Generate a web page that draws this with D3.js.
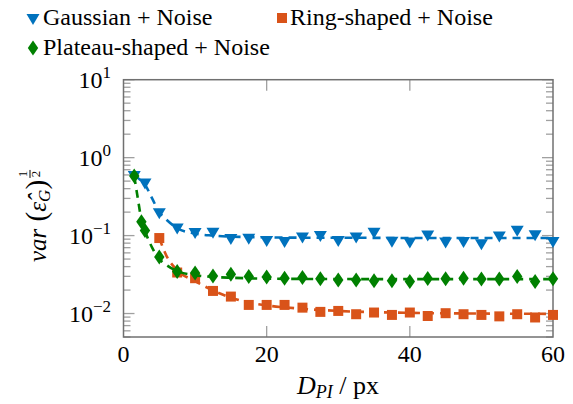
<!DOCTYPE html>
<html><head><meta charset="utf-8">
<script src="https://cdn.jsdelivr.net/npm/d3@7"></script>
<style>
body{margin:0;background:#fff}
svg{display:block}
</style>
</head><body>
<svg id="chart" width="573" height="404" font-family="'Liberation Serif', 'DejaVu Serif', 'Noto Serif', Tinos, 'Times New Roman', Times, serif"></svg>
<script>
// Measured points: D_PI (px) vs. var(eps_G)^(1/2)
const gaussX = [1.5, 3, 5, 7.5, 10, 12.5, 15, 17.5, 20, 22.5, 25, 27.5, 30, 32.5, 35, 37.5, 40, 42.5, 45, 47.5, 50, 52.5, 55, 57.5, 60];
const gaussY = [0.60, 0.48, 0.20, 0.127, 0.111, 0.112, 0.093, 0.094, 0.088, 0.085, 0.097, 0.102, 0.088, 0.097, 0.112, 0.086, 0.084, 0.103, 0.084, 0.085, 0.080, 0.100, 0.119, 0.104, 0.085];

const ringX = [5, 7.5, 10, 12.5, 15, 17.5, 20, 22.5, 25, 27.5, 30, 32.5, 35, 37.5, 40, 42.5, 45, 47.5, 50, 52.5, 55, 57.5, 60];
const ringY = [0.093, 0.0336, 0.0284, 0.0195, 0.0165, 0.0129, 0.0129, 0.0129, 0.0119, 0.0105, 0.0108, 0.0098, 0.0103, 0.0096, 0.0103, 0.0093, 0.0101, 0.0098, 0.0096, 0.0092, 0.0098, 0.0089, 0.0096];

const plateauX = [1.5, 2.5, 3, 5, 7.5, 10, 12.5, 15, 17.5, 20, 22.5, 25, 27.5, 30, 32.5, 35, 37.5, 40, 42.5, 45, 47.5, 50, 52.5, 55, 57.5, 60];
const plateauY = [0.58, 0.151, 0.116, 0.053, 0.0345, 0.033, 0.0304, 0.032, 0.0298, 0.0294, 0.0284, 0.029, 0.0279, 0.027, 0.027, 0.0263, 0.0263, 0.0257, 0.0281, 0.0279, 0.0284, 0.0277, 0.0277, 0.0298, 0.0257, 0.0279];

// Fitted trend curves (dashed)
const fitX = [1.5, 2, 2.5, 3, 4, 5, 6, 7.5, 10, 12.5, 15, 17.5, 20, 25, 30, 40, 50, 60];
const gaussFit = [0.60, 0.55, 0.50, 0.45, 0.30, 0.20, 0.16, 0.125, 0.106, 0.100, 0.097, 0.096, 0.095, 0.094, 0.094, 0.093, 0.093, 0.093];
const plateauFit = [0.58, 0.30, 0.16, 0.115, 0.07, 0.05, 0.042, 0.035, 0.031, 0.0295, 0.0288, 0.0283, 0.028, 0.0278, 0.0277, 0.0276, 0.0276, 0.0276];
const ringFitX = [5, 6, 7.5, 10, 12.5, 15, 17.5, 20, 25, 30, 40, 50, 60];
const ringFit = [0.093, 0.055, 0.036, 0.026, 0.0198, 0.016, 0.0138, 0.0127, 0.0115, 0.0108, 0.0102, 0.0100, 0.0099];

const xTicks = [0, 20, 40, 60];
const yTickExp = [-2, -1, 0, 1];
const seriesNames = ["Gaussian + Noise", "Ring-shaped + Noise", "Plateau-shaped + Noise"];

const colBlue = "#0072bd", colOrange = "#d95319", colGreen = "#008000";

const svg = d3.select("#chart");
const L = 123.5, R = 553, T = 79.7, B = 337;
const x = d3.scaleLinear().domain([0, 60]).range([L, R]);
const y = d3.scaleLog().domain([0.005, 10]).range([B, T]);

// axis ticks (inside, grey)
const tickG = svg.append("g").attr("stroke", "#a0a0a0").attr("stroke-width", 1.3);
xTicks.filter(v => v > 0 && v < 60).forEach(v => {
  tickG.append("line").attr("x1", x(v)).attr("x2", x(v)).attr("y1", B).attr("y2", B - 11);
  tickG.append("line").attr("x1", x(v)).attr("x2", x(v)).attr("y1", T).attr("y2", T + 11);
});
for (let e = -3; e <= 1; e++) {
  for (let m = 1; m <= 9; m++) {
    const v = m * Math.pow(10, e);
    if (v < 0.005 || v > 10) continue;
    const len = m === 1 ? 11 : 7;
    const yy = y(v);
    tickG.append("line").attr("x1", L).attr("x2", L + len).attr("y1", yy).attr("y2", yy);
    tickG.append("line").attr("x1", R).attr("x2", R - len).attr("y1", yy).attr("y2", yy);
  }
}

// frame
svg.append("rect").attr("x", L).attr("y", T).attr("width", R - L).attr("height", B - T)
  .attr("fill", "none").attr("stroke", "#707070").attr("stroke-width", 1.5);

// tick labels
svg.append("g").selectAll("text").data(xTicks).join("text")
  .attr("x", d => x(d)).attr("y", 361.5).attr("text-anchor", "middle")
  .attr("font-size", 24).text(d => d);

yTickExp.forEach(e => {
  const t = svg.append("text").attr("x", 111).attr("y", y(Math.pow(10, e)) + 8)
    .attr("text-anchor", "end").attr("font-size", 24);
  t.append("tspan").text("10");
  t.append("tspan").attr("font-size", 17).attr("dy", -10).text(e < 0 ? "\u2212" + (-e) : String(e));
});

// fitted curves
const line = d3.line().x(d => x(d[0])).y(d => y(d[1])).curve(d3.curveMonotoneX);
function fitPath(xs, ys, col) {
  svg.append("path").datum(xs.map((v, i) => [v, ys[i]]))
    .attr("d", line).attr("fill", "none").attr("stroke", col)
    .attr("stroke-width", 2.6).attr("stroke-dasharray", "8,6");
}

// markers
const triDown = () => "M-6.5,-4 L6.5,-4 L0,7 Z";
const square = () => "M-5,-5 h10 v10 h-10 Z";
const diamond = () => "M0,-7.5 L5.2,0 L0,7.5 L-5.2,0 Z";

function marks(xs, ys, shape, col) {
  svg.append("g").selectAll("path").data(xs.map((v, i) => [v, ys[i]])).join("path")
    .attr("transform", d => `translate(${x(d[0])},${y(d[1])})`)
    .attr("d", shape()).attr("fill", col);
}

fitPath(fitX, gaussFit, colBlue);
marks(gaussX, gaussY, triDown, colBlue);
fitPath(ringFitX, ringFit, colOrange);
marks(ringX, ringY, square, colOrange);
fitPath(fitX, plateauFit, colGreen);
marks(plateauX, plateauY, diamond, colGreen);

// legend
const leg = [
  {name: seriesNames[0], shape: triDown, col: colBlue, mx: 33, tx: 43, by: 25},
  {name: seriesNames[1], shape: square, col: colOrange, mx: 282, tx: 290, by: 25},
  {name: seriesNames[2], shape: diamond, col: colGreen, mx: 33, tx: 43, by: 55}
];
leg.forEach(d => {
  svg.append("path").attr("transform", `translate(${d.mx},${d.by - 7})`).attr("d", d.shape()).attr("fill", d.col);
  svg.append("text").attr("x", d.tx).attr("y", d.by).attr("font-size", 24).text(d.name);
});

// x-axis title: D_PI / px
const xt = svg.append("text").attr("x", 338).attr("y", 394).attr("text-anchor", "middle").attr("font-size", 26);
xt.append("tspan").attr("font-style", "italic").text("D");
xt.append("tspan").attr("font-style", "italic").attr("font-size", 18).attr("dy", 4).text("PI");
xt.append("tspan").attr("dy", -4).text(" / px");

// y-axis title: var(ê_G)^(1/2), rotated
const yt = svg.append("g").attr("transform", "translate(46,262) rotate(-90)");
const ytx = yt.append("text").attr("x", 0).attr("y", 0).attr("font-size", 25);
ytx.append("tspan").attr("font-style", "italic").text("var");
ytx.append("tspan").attr("font-size", 29).text(" (");
ytx.append("tspan").attr("font-style", "italic").text("\u03B5\u0302");
ytx.append("tspan").attr("font-style", "italic").attr("font-size", 17).attr("dy", 4).text("G");
ytx.append("tspan").attr("font-size", 29).attr("dy", -4).text(")");
const yw = ytx.node().getComputedTextLength();
const fr = yt.append("g").attr("transform", `translate(${yw + 6},-16)`);
fr.append("text").attr("x", 0).attr("y", -3).attr("text-anchor", "middle").attr("font-size", 13).text("1");
fr.append("line").attr("x1", -4).attr("x2", 4).attr("y1", 0).attr("y2", 0).attr("stroke", "#000").attr("stroke-width", 1);
fr.append("text").attr("x", 0).attr("y", 10).attr("text-anchor", "middle").attr("font-size", 13).text("2");
</script>
</body></html>
